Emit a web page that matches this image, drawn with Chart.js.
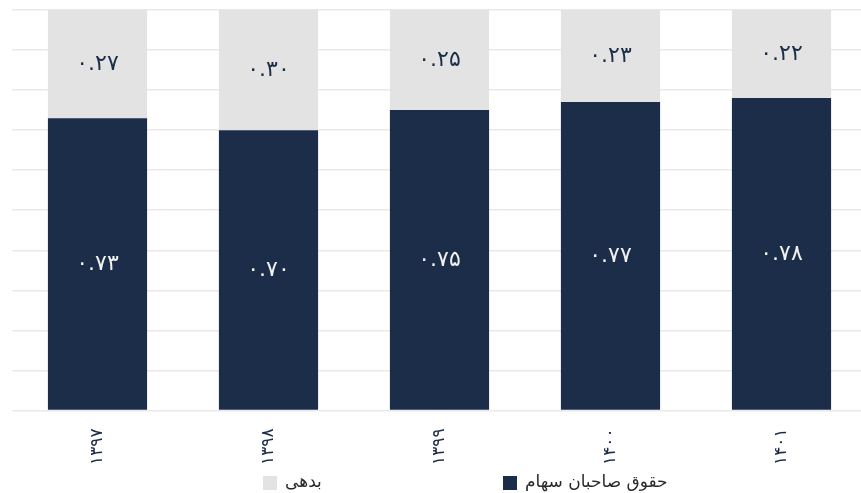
<!DOCTYPE html>
<html>
<head>
<meta charset="utf-8">
<script src="https://cdn.jsdelivr.net/npm/chart.js@4.4.0/dist/chart.umd.min.js"></script>
<style>
    html, body { margin: 0; padding: 0; background: #fff; overflow: hidden; }
    #wrap { width: 867px; height: 493px; }
</style>
</head>
<body>
<div id="wrap"><canvas id="chart-canvas"></canvas></div>
<script>
// years (Persian calendar)
const years = ['۱۳۹۷', '۱۳۹۸', '۱۳۹۹', '۱۴۰۰', '۱۴۰۱'];
// equity share
const equity = [0.73, 0.70, 0.75, 0.77, 0.78];
// debt share
const debt = [0.27, 0.30, 0.25, 0.23, 0.22];
const seriesNames = ['حقوق صاحبان سهام', 'بدهی'];

const NAVY = '#1b2d48';
const GREY = '#e3e3e3';
const FONT = '"DejaVu Sans", sans-serif';

function toFa(str) {
    return String(str).replace(/\d/g, d => '۰۱۲۳۴۵۶۷۸۹'[d]);
}

// value labels inside each bar segment
const valueLabels = {
    id: 'valueLabels',
    afterDatasetsDraw(chart) {
        const ctx = chart.ctx;
        ctx.save();
        ctx.font = '22px ' + FONT;
        ctx.textAlign = 'center';
        ctx.textBaseline = 'middle';
        chart.data.datasets.forEach((ds, i) => {
            const meta = chart.getDatasetMeta(i);
            ctx.fillStyle = i === 0 ? '#f2f2f2' : NAVY;
            meta.data.forEach((bar, j) => {
                const mid = (bar.y + bar.base) / 2;
                ctx.fillText(toFa(ds.data[j].toFixed(2)), bar.x, mid);
            });
        });
        ctx.restore();
    }
};

// legend drawn under the axis labels
const bottomLegend = {
    id: 'bottomLegend',
    afterDraw(chart) {
        const ctx = chart.ctx;
        const items = [
            { x: 263, color: GREY, text: seriesNames[1] },
            { x: 503, color: NAVY, text: seriesNames[0] }
        ];
        const y = 483;
        ctx.save();
        ctx.font = '17px ' + FONT;
        ctx.textBaseline = 'middle';
        ctx.textAlign = 'left';
        items.forEach(it => {
            ctx.fillStyle = it.color;
            ctx.fillRect(it.x, y - 7, 14, 14);
            ctx.fillStyle = '#2a2a2a';
            ctx.fillText(it.text, it.x + 22, y);
        });
        ctx.restore();
    }
};

new Chart(document.getElementById('chart-canvas'), {
    type: 'bar',
    data: {
        labels: years,
        datasets: [
            { label: seriesNames[0], data: equity, backgroundColor: NAVY },
            { label: seriesNames[1], data: debt, backgroundColor: GREY }
        ]
    },
    options: {
        responsive: true,
        maintainAspectRatio: false,
        animation: false,
        datasets: { bar: { barPercentage: 0.58, categoryPercentage: 1.0 } },
        layout: { padding: { left: 12, right: 0, top: 10, bottom: 18 } },
        plugins: {
            legend: { display: false },
            tooltip: { enabled: false }
        },
        scales: {
            x: {
                stacked: true,
                grid: { display: false },
                border: { display: false },
                ticks: {
                    color: NAVY,
                    font: { family: FONT, size: 17 },
                    minRotation: 90,
                    maxRotation: 90,
                    padding: 10
                }
            },
            y: {
                stacked: true,
                min: 0,
                max: 1,
                border: { display: false },
                grid: { color: '#e9e9e9', lineWidth: 1.5, drawTicks: false },
                ticks: { display: false, stepSize: 0.1 }
            }
        }
    },
    plugins: [valueLabels, bottomLegend]
});
</script>
</body>
</html>
